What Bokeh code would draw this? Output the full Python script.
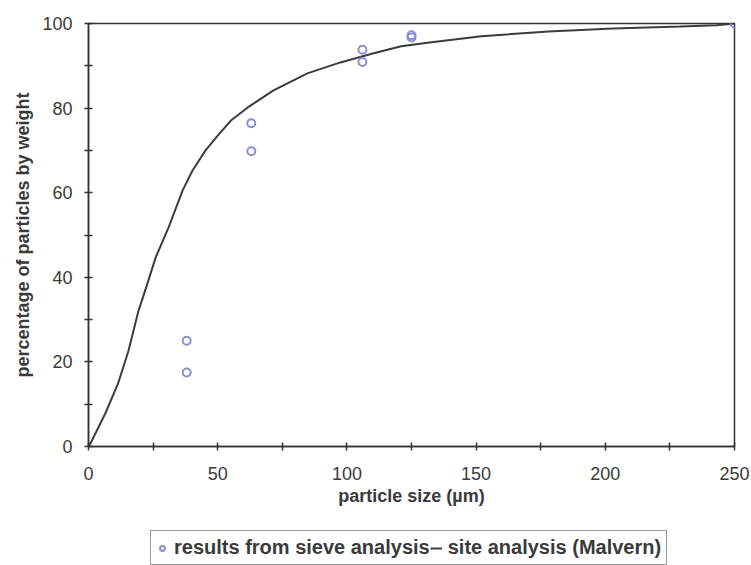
from bokeh.plotting import figure
from bokeh.layouts import column
from bokeh.models import Range1d, Legend, LegendItem, FixedTicker
from bokeh.embed import file_html
from bokeh.resources import INLINE

# Malvern (site analysis) cumulative curve
curve_x = [0, 1, 3, 6.5, 11.5, 15.5, 19.3, 22.8, 26, 31, 36.4, 40.2, 45.3, 50, 55,
           61.5, 71.6, 84.7, 97.5, 110, 121, 132, 152, 178, 203, 229, 243, 250]
curve_y = [0, 1, 3.5, 7.8, 15, 22.7, 32, 38.5, 44.7, 51.8, 60.5, 65.2, 70, 73.5, 77,
           80.1, 84.2, 88.2, 90.8, 92.9, 94.6, 95.5, 97.0, 98.1, 98.8, 99.3, 99.6, 100]

# sieve analysis results
sieve_x = [38, 38, 63, 63, 106, 106, 125, 125, 250]
sieve_y = [25, 17.5, 76.4, 69.8, 93.8, 90.9, 97.2, 96.7, 100]

x_ticks = [0, 25, 50, 75, 100, 125, 150, 175, 200, 225, 250]
x_labels = {0: "0", 50: "50", 100: "100", 150: "150", 200: "200", 250: "250"}
y_ticks = [0, 10, 20, 30, 40, 50, 60, 70, 80, 90, 100]
y_labels = {0: "0", 20: "20", 40: "40", 60: "60", 80: "80", 100: "100"}

legend_labels = ["results from sieve analysis", "site analysis (Malvern)"]

FONT = "Liberation Sans"
TXT = "#3a3a3a"
AX = "#333333"
PT = "#8a8fd0"
LN = "#3c3c3c"

p = figure(width=751, height=520, output_backend="svg", toolbar_location=None,
           x_range=Range1d(0, 250), y_range=Range1d(0, 100),
           min_border_left=88, min_border_right=17, min_border_top=23,
           min_border_bottom=74)
p.xgrid.visible = False
p.ygrid.visible = False
p.outline_line_color = AX
p.outline_line_width = 1.5
p.background_fill_color = "white"
p.border_fill_color = "white"

for ax, ticks, labels in ((p.xaxis[0], x_ticks, x_labels), (p.yaxis[0], y_ticks, y_labels)):
    ax.ticker = FixedTicker(ticks=ticks)
    ax.major_label_overrides = {t: labels.get(t, "") for t in ticks}
    ax.axis_line_color = AX
    ax.axis_line_width = 1.5
    ax.major_tick_line_color = AX
    ax.major_tick_line_width = 1.5
    ax.major_tick_in = 4
    ax.major_tick_out = 4
    ax.minor_tick_line_color = None
    ax.major_label_text_font = FONT
    ax.major_label_text_font_size = "18px"
    ax.major_label_text_color = TXT
    ax.axis_label_text_font = FONT
    ax.axis_label_text_font_size = "18px"
    ax.axis_label_text_font_style = "bold"
    ax.axis_label_text_color = TXT

p.xaxis.axis_label = "particle size (µm)"
p.yaxis.axis_label = "percentage of particles by weight"
p.xaxis.major_label_standoff = 16
p.yaxis.major_label_standoff = 12
p.xaxis.axis_label_standoff = 3
p.yaxis.axis_label_standoff = 6

p.line(curve_x, curve_y, line_color=LN, line_width=2)
p.scatter(sieve_x, sieve_y, marker="circle", size=8, fill_color=None,
          line_color=PT, line_width=2)

# legend strip below the chart (its ranges keep the copies of the data out of view)
q = figure(width=751, height=45, output_backend="svg", toolbar_location=None,
           x_range=Range1d(-20, -10), y_range=Range1d(-20, -10),
           x_axis_type=None, y_axis_type=None, min_border=0)
q.xgrid.visible = False
q.ygrid.visible = False
q.outline_line_color = None
q.background_fill_color = "white"
q.border_fill_color = "white"
pts_k = q.scatter(sieve_x, sieve_y, marker="circle", size=8, fill_color=None,
                  line_color=PT, line_width=2)
line_k = q.line(curve_x, curve_y, line_color=LN, line_width=2)

legend = Legend(items=[
    LegendItem(label=legend_labels[0], renderers=[pts_k]),
    LegendItem(label=legend_labels[1], renderers=[line_k]),
], location=(62, 0), orientation="horizontal")
legend.glyph_width = 12
legend.label_standoff = 6
legend.spacing = 0
legend.padding = 5
legend.margin = 0
legend.label_text_font = FONT
legend.label_text_font_size = "20px"
legend.label_text_font_style = "bold"
legend.label_text_color = TXT
legend.border_line_color = AX
legend.border_line_width = 1.5
legend.background_fill_color = "white"
q.add_layout(legend, "center")

layout = column(p, q, spacing=0)
open("out.html", "w").write(file_html(layout, INLINE))
